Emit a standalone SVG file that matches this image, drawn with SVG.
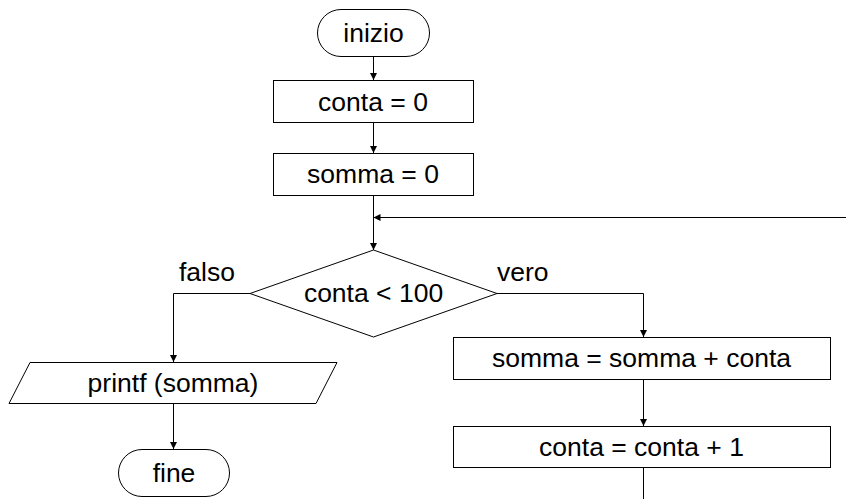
<svg xmlns="http://www.w3.org/2000/svg" width="846" height="499" viewBox="0 0 846 499">
<defs>
<style>
.s{fill:#fff;stroke:#000;stroke-width:1}
.c{fill:none;stroke:#000;stroke-width:1}
text{font-family:"Liberation Sans",Arial,sans-serif;font-size:26.5px;fill:#000}
.m{text-anchor:middle}
</style>
<marker id="ah" markerWidth="8" markerHeight="8" refX="7" refY="4" orient="auto" markerUnits="userSpaceOnUse">
<path d="M0,0.5 L7,4 L0,7.5 Z" fill="#000"/>
</marker>
</defs>
<rect width="846" height="499" fill="#fff"/>
<g id="connectors">
<line class="c" x1="373.5" y1="57" x2="373.5" y2="80" marker-end="url(#ah)"/>
<line class="c" x1="373.5" y1="123" x2="373.5" y2="153" marker-end="url(#ah)"/>
<line class="c" x1="373.5" y1="195" x2="373.5" y2="250" marker-end="url(#ah)"/>
<line class="c" x1="846" y1="217.5" x2="373.5" y2="217.5" marker-end="url(#ah)"/>
<polyline class="c" points="250,293.5 173.5,293.5 173.5,362" marker-end="url(#ah)"/>
<line class="c" x1="173.5" y1="403" x2="173.5" y2="449" marker-end="url(#ah)"/>
<polyline class="c" points="497,293.5 643.5,293.5 643.5,337" marker-end="url(#ah)"/>
<line class="c" x1="643.5" y1="379" x2="643.5" y2="426" marker-end="url(#ah)"/>
<line class="c" x1="643.5" y1="467" x2="643.5" y2="499"/>
<text x="179" y="281">falso</text>
<text x="497" y="281">vero</text>
</g>
<g id="inizio">
<rect class="s" x="317.5" y="9.5" width="112" height="47" rx="23.5"/>
<text class="m" x="373.5" y="42">inizio</text>
</g>
<g id="conta0">
<rect class="s" x="273.5" y="80.5" width="200" height="42"/>
<text class="m" x="373" y="111">conta = 0</text>
</g>
<g id="somma0">
<rect class="s" x="273.5" y="153.5" width="200" height="42"/>
<text class="m" x="373" y="183">somma = 0</text>
</g>
<g id="cond">
<polygon class="s" points="373.5,250 497,293.5 373.5,337 250,293.5"/>
<text class="m" x="373.5" y="302">conta &lt; 100</text>
</g>
<g id="printf">
<polygon class="s" points="30,362.5 337,362.5 316,403.5 9,403.5"/>
<text class="m" x="173" y="392">printf (somma)</text>
</g>
<g id="fine">
<rect class="s" x="118.5" y="449.5" width="111" height="47" rx="23.5"/>
<text class="m" x="174" y="482">fine</text>
</g>
<g id="sommaUpd">
<rect class="s" x="453.5" y="337.5" width="377" height="42"/>
<text class="m" x="641.5" y="367">somma = somma + conta</text>
</g>
<g id="contaUpd">
<rect class="s" x="453.5" y="426.5" width="377" height="41"/>
<text class="m" x="641.5" y="456">conta = conta + 1</text>
</g>
</svg>
